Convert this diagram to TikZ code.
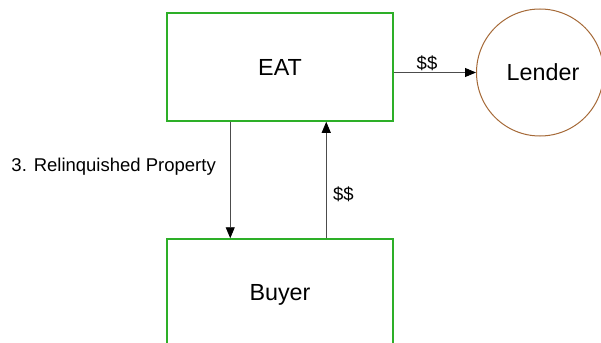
\documentclass[tikz,border=0pt]{standalone}
\usepackage{fontspec}
\setmainfont{Liberation Sans}
\usetikzlibrary{arrows.meta}

\definecolor{eatgreen}{RGB}{45,175,40}
\definecolor{lenderbrown}{RGB}{165,105,55}
\tikzset{
    party/.style = {rectangle, draw = eatgreen, line width = 1.5pt,
        minimum width = 226pt, minimum height = 108pt, inner sep = 0pt,
        font = \fontsize{23.3}{28}\selectfont},
    bank/.style = {circle, draw = lenderbrown, line width = 1pt, minimum size = 127pt,
        inner sep = 0pt, font = \fontsize{23.3}{28}\selectfont},
    flow/.style = {draw = black!70, line width = 0.9pt,
        -{Triangle[length = 11pt, width = 9pt, color = black]}},
    tag/.style = {inner sep = 0pt, font = \fontsize{18.5}{22}\selectfont}
}

\begin{document}
\begin{tikzpicture}[x = 1pt, y = -1pt]
    \useasboundingbox (0,0) rectangle (601,342);
    \node[party] (EAT) at (280,67) {EAT};
    \node[party, minimum height = 112pt] (Buyer) at (280,295) {Buyer};
    \node[bank] (Lender) at (540,72.5) {\raisebox{-3pt}{\hspace{6pt}Lender}};
    \draw[flow] ([xshift = 64pt]EAT.south west) -- ([xshift = 64pt]Buyer.north west);
    \draw[flow] ([xshift = 160pt]Buyer.north west) -- ([xshift = 160pt]EAT.south west);
    \draw[flow] (EAT.east |- Lender) -- (Lender);
    \node[tag, anchor = east] (relq) at (216,167) {3. Relinquished Property};
    \node[tag, anchor = west] (cashup) at (333,194) {\$\$};
    \node[tag] (cashout) at (427,63) {\$\$};
\end{tikzpicture}
\end{document}
